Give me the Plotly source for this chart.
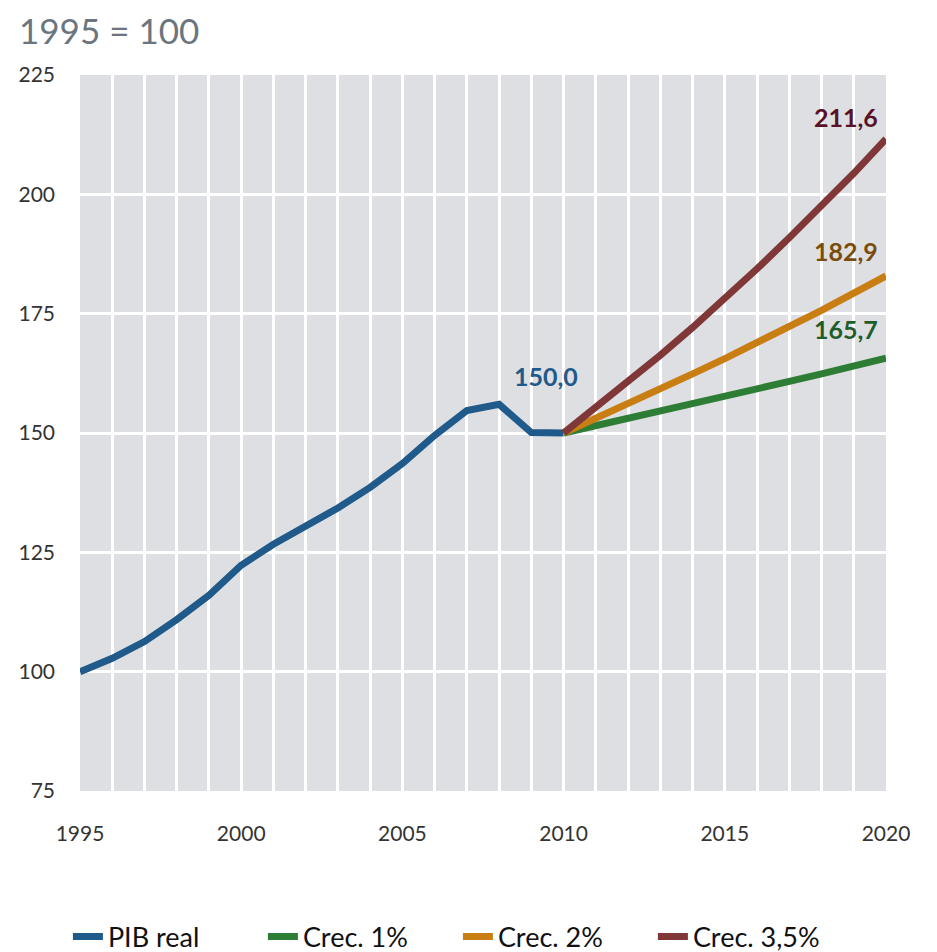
import plotly.graph_objects as go

years_real = list(range(1995, 2011))
pib_real = [100.0, 102.8, 106.3, 110.9, 116.0, 122.3, 126.7, 130.3, 134.3,
            138.6, 143.6, 149.5, 154.7, 156.0, 150.1, 150.0]

years_proj = list(range(2010, 2021))
crec_1 = [150.0, 151.5, 153.0, 154.5, 156.1, 157.7, 159.2, 160.8, 162.4, 164.1, 165.7]
crec_2 = [150.0, 153.0, 156.1, 159.2, 162.4, 165.6, 168.9, 172.3, 175.7, 179.3, 182.9]
crec_35 = [150.0, 155.3, 160.7, 166.3, 172.1, 178.2, 184.4, 190.9, 197.5, 204.4, 211.6]

label_texts = ["150,0", "211,6", "182,9", "165,7"]
label_x = [2009.45, 2018.75, 2018.75, 2018.75]
label_y = [161.9, 216.2, 188.1, 171.8]

C_BLUE = "#1F5A8A"
C_GREEN = "#2E7D35"
C_ORANGE = "#C87E12"
C_RED = "#7F3737"
label_colors = [C_BLUE, "#5A1226", "#7A4C0C", "#1F5E2B"]

FONT = "Lato, 'Open Sans', sans-serif"

fig = go.Figure()
fig.add_trace(go.Scatter(x=years_real, y=pib_real, mode="lines", name="PIB real",
                         line=dict(color=C_BLUE, width=7)))
fig.add_trace(go.Scatter(x=years_proj, y=crec_1, mode="lines", name="Crec. 1%",
                         line=dict(color=C_GREEN, width=7)))
fig.add_trace(go.Scatter(x=years_proj, y=crec_2, mode="lines", name="Crec. 2%",
                         line=dict(color=C_ORANGE, width=7)))
fig.add_trace(go.Scatter(x=years_proj, y=crec_35, mode="lines", name="Crec. 3,5%",
                         line=dict(color=C_RED, width=7)))

for t, x, y, c in zip(label_texts, label_x, label_y, label_colors):
    fig.add_annotation(x=x, y=y, text=f"<b>{t}</b>", showarrow=False,
                       font=dict(family=FONT, size=25, color=c),
                       xanchor="center", yanchor="middle")

# chart title (placed as a paper annotation just under the top edge)
fig.add_annotation(text="1995 = 100", xref="paper", yref="paper",
                   x=-62/806, y=1 + 67/716, xanchor="left", yanchor="top",
                   showarrow=False, borderpad=0,
                   font=dict(family=FONT, size=35, color="#6B7580"))

fig.update_layout(
    width=937, height=952,
    margin=dict(l=72, r=59, t=67, b=169, autoexpand=False),
    paper_bgcolor="white",
    plot_bgcolor="#DEDFE3",
    font=dict(family=FONT, size=21, color="#333333"),
    showlegend=True,
    legend=dict(orientation="h", x=-0.015, xanchor="left", y=-0.204, yanchor="middle",
                font=dict(family=FONT, size=27, color="#111111"),
                entrywidth=150, entrywidthmode="pixels",
                itemwidth=30, tracegroupgap=0, bgcolor="rgba(0,0,0,0)"),
    xaxis=dict(range=[1995, 2020], tickmode="linear", tick0=1995, dtick=5,
               showgrid=True, gridcolor="white", gridwidth=3,
               minor=dict(dtick=1, showgrid=True, gridcolor="white", gridwidth=3),
               zeroline=False, showline=False, ticks="", ticklabelstandoff=28,
               automargin=False,
               tickfont=dict(family=FONT, size=21, color="#333333")),
    yaxis=dict(range=[75, 225], tickmode="linear", tick0=75, dtick=25,
               showgrid=True, gridcolor="white", gridwidth=3,
               zeroline=False, showline=False, ticks="", ticklabelstandoff=24,
               automargin=False,
               tickfont=dict(family=FONT, size=21, color="#333333")),
)

fig.write_html("out.html")
